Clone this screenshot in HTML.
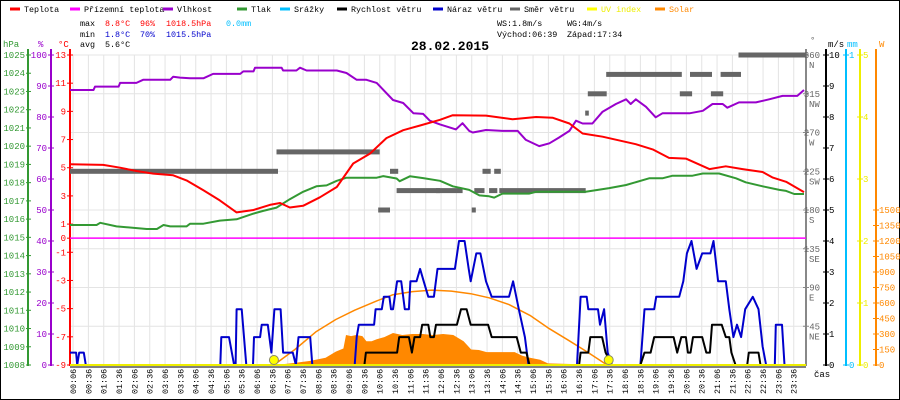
<!DOCTYPE html>
<html><head><meta charset="utf-8">
<style>
html,body{margin:0;padding:0;background:#fff;}
svg{display:block;font-family:"Liberation Mono","DejaVu Sans Mono",monospace;}
</style></head>
<body>
<svg id="chart" width="900" height="400" viewBox="0 0 900 400">
  <rect x="0.5" y="0.5" width="899" height="399" fill="#fff" stroke="#000"/>
  <g id="legend" font-size="8.4"></g>
  <g font-size="8.4">
    <text x="80" y="26" fill="#000">max</text>
    <text x="105" y="26" fill="#f00">8.8°C</text>
    <text x="140" y="26" fill="#f00">96%</text>
    <text x="166" y="26" fill="#f00">1018.5hPa</text>
    <text x="226" y="26" fill="#00bfff">0.0mm</text>
    <text x="80" y="37" fill="#000">min</text>
    <text x="105" y="37" fill="#00c">1.8°C</text>
    <text x="140" y="37" fill="#00c">70%</text>
    <text x="166" y="37" fill="#00c">1015.5hPa</text>
    <text x="80" y="47" fill="#000">avg</text>
    <text x="105" y="47" fill="#000">5.6°C</text>
    <text x="497" y="26" fill="#000">WS:1.8m/s</text>
    <text x="567" y="26" fill="#000">WG:4m/s</text>
    <text x="497" y="37" fill="#000">Východ:06:39</text>
    <text x="567" y="37" fill="#000">Západ:17:34</text>
  </g>
  <text x="450" y="50" text-anchor="middle" font-size="13" font-weight="bold" fill="#000">28.02.2015</text>
  <g id="grid"></g>
  <g id="axes" font-size="9"></g>
  <g id="series"></g>
  <g id="xlabels" font-size="8.4"></g>
  <text x="814" y="377" font-size="9" fill="#000">čas</text>
</svg>
<script>
// ---- data (minutes from midnight, value) ----
const tempT = [0,65,98,130,163,202,228,261,293,326,359,391,411,430,456,489,522,554,587,619,652,685,724,749,814,866,912,944,977,1003,1042,1107,1140,1172,1205,1251,1283,1316,1355,1375,1401,1436];
const tempV = [5.24,5.2,5.0,4.77,4.58,4.46,4.1,3.4,2.68,1.83,2.0,2.36,2.5,2.18,2.3,2.9,3.63,5.3,6.0,7.1,7.66,8.0,8.4,8.73,8.7,8.44,8.6,8.55,8.14,7.43,7.2,6.67,6.3,5.7,5.65,4.9,5.1,4.9,4.7,4.3,4.0,3.27];
const humT = [0,46,49,95,98,130,143,196,202,215,235,261,280,333,339,359,362,414,417,443,450,463,522,541,561,580,600,632,652,672,691,704,724,755,768,781,788,814,846,876,892,918,938,957,977,990,1003,1022,1042,1068,1088,1097,1107,1127,1146,1159,1212,1238,1257,1277,1286,1309,1342,1368,1394,1423,1436];
const humV = [88.7,88.7,89.8,89.8,91,91,92,92,93,92.7,92.5,92.5,93.9,93.9,94.7,94.7,95.9,95.9,95,95,95.9,95,95,94.2,92,92,91,85.5,84.5,81.2,81,78.8,77.6,76,78,75.5,75,75.8,75.5,75.5,72.6,70.6,71.5,73.4,75.5,78.8,77.9,77.9,81.7,84.2,85.7,84.2,85.7,83.3,79.9,81.2,81.2,82,84.2,84.2,83,84.7,84.7,85.7,86.8,86.8,88.7];
const presT = [0,52,59,91,150,170,183,196,228,235,261,293,326,359,378,404,430,456,482,502,522,541,600,613,639,645,665,691,724,749,781,801,820,830,846,898,912,1009,1055,1088,1133,1159,1179,1218,1238,1270,1303,1322,1355,1388,1401,1417,1436];
const presV = [1015.68,1015.68,1015.8,1015.6,1015.46,1015.46,1015.68,1015.6,1015.6,1015.75,1015.75,1015.92,1015.99,1016.3,1016.45,1016.63,1017.09,1017.5,1017.8,1017.85,1018.1,1018.27,1018.27,1018.36,1018.23,1018.08,1018.35,1018.25,1018.1,1017.8,1017.6,1017.3,1017.25,1017.18,1017.4,1017.4,1017.5,1017.5,1017.7,1017.87,1018.24,1018.24,1018.38,1018.38,1018.5,1018.5,1018.24,1018.02,1017.8,1017.6,1017.55,1017.38,1017.38];
const gustT = [0,12,14,18,27,31,294,296,311,321,324,326,336,345,358,360,372,375,387,394,400,412,417,436,442,447,470,474,557,561,565,595,598,610,614,625,628,632,640,648,655,663,666,678,685,692,701,712,719,753,761,772,780,784,795,803,814,825,859,867,878,890,897,992,999,1011,1014,1033,1037,1045,1052,1060,1116,1124,1143,1147,1192,1200,1207,1216,1226,1237,1253,1259,1268,1283,1290,1298,1305,1313,1321,1336,1347,1355,1362,1379,1381,1393,1398,1440];
const gustV = [0.4,0.4,0,0.4,0.4,0,0,0.9,0.9,0,0,1.8,1.8,0,0,0.9,0.9,1.3,1.3,0.4,1.8,1.8,0.4,0.4,0,0.9,0.9,0,0,0.9,1.3,1.3,1.8,1.8,2.2,2.2,1.8,1.8,2.7,2.7,1.8,1.8,2.7,2.7,3.1,2.7,2.2,2.2,3.1,3.1,4.0,4.0,3.1,2.7,3.6,3.6,2.7,2.2,2.2,2.7,1.8,0.9,0,0,2.2,2.2,1.8,1.8,1.3,1.8,0.4,0,0,1.8,1.8,2.2,2.2,2.7,3.6,4.0,3.1,3.6,3.6,4.0,2.7,2.7,1.8,0.9,1.3,0.9,1.8,2.2,1.8,0.6,0,0,1.3,1.3,0,0];
const windT = [0,576,579,640,644,663,669,674,685,689,701,705,712,716,757,765,776,784,818,825,874,882,893,899,996,999,1014,1018,1041,1048,1060,1116,1124,1136,1143,1181,1188,1196,1205,1209,1214,1219,1237,1245,1252,1256,1275,1283,1290,1294,1302,1325,1328,1347,1351,1440];
const windV = [0,0,0.4,0.4,0.9,0.9,0.4,0.9,0.9,1.3,1.3,0.9,0.9,1.3,1.3,1.8,1.8,1.3,1.3,0.9,0.9,0.4,0.4,0,0,0.4,0.4,0.9,0.9,0.4,0,0,0.4,0.4,0.9,0.9,0.4,0.9,0.9,0.4,0.4,0.9,0.9,0.4,0.4,1.3,1.3,0.9,0.9,0.4,0,0,0.4,0.4,0,0];
const solarT = [0,400,420,440,470,500,520,535,540,550,560,572,580,590,600,615,632,650,670,690,710,730,750,760,770,785,800,815,870,885,900,920,935,980,995,1440];
const solarV = [0,0,10,20,40,70,130,160,290,280,290,280,230,230,250,270,310,290,300,300,290,300,290,260,230,150,145,125,125,90,70,50,15,10,0,0];
const solarMaxT = [399,440,481,520,557,600,632,670,708,746,784,820,859,900,935,975,1011,1048,1054];
const solarMaxV = [0,150,320,440,530,620,680,710,725,715,690,650,585,480,360,240,130,10,0];
const dirStart = [0,404,603,626,639,716,791,820,840,807,830,786,1008,1013,1049,1213,1273,1193,1254,1308];
const dirEnd   = [407,606,626,642,724,768,811,836,1009,823,843,794,1015,1050,1197,1256,1313,1217,1278,1440];
const dirVal   = [225,247.5,180,225,202.5,202.5,202.5,202.5,202.5,225,225,180,292.5,315,337.5,337.5,337.5,315,315,360];
const sunEvents = [399,1054];
const legendNames = ["Teplota","Přízemní teplota","Vlhkost","Tlak","Srážky","Rychlost větru","Náraz větru","Směr větru","UV index","Solar"];
const legendColors = ["#f00","#f0f","#90c","#393","#00bfff","#000","#00c","#666","#ff0","#f80"];
const legendX = [10,70,163,237,280,337,433,510,587,655];

// ---- scales ----
const X0=70, X1=806, YT=55, YB=365;
const xS = m => X0 + m/1440*(X1-X0);
const yTemp = t => YT + (13-t)*(YB-YT)/22;
const yHum = h => YT + (100-h)*(YB-YT)/100;
const yPres = p => YT + (1025-p)*(YB-YT)/17;
const yWind = v => YB - v*(YB-YT)/10;
const yDir = d => YB - d*(YB-YT)/360;
const ySolar = w => YB - w*(155/1500);
const NS='http://www.w3.org/2000/svg';
function mk(tag, attrs, parent){const e=document.createElementNS(NS,tag);for(const k in attrs)e.setAttribute(k,attrs[k]);parent.appendChild(e);return e;}

const legend=document.getElementById('legend');
legendNames.forEach((n,i)=>{
  const ln=mk('line',{x1:legendX[i],x2:legendX[i]+10,y1:9,y2:9,stroke:legendColors[i],'stroke-width':3},legend);
  
  
  const t=mk('text',{x:legendX[i]+14,y:12,fill:(i==8?'#ee0':(i==9?'#f80':'#000'))},legend);
  t.textContent=n;
  
  
});

const grid=document.getElementById('grid');
for(let k=0;k<48;k++){
  const x=xS(6+30*k);
  const l=mk('line',{x1:x,x2:x,y1:YT,y2:YB,stroke:'#e4e4e4','stroke-width':1},grid);
  
  
}
for(let d=45;d<=360;d+=45){
  const y=yDir(d);
  const l=mk('line',{x1:X0,x2:X1,y1:y,y2:y,stroke:'#e4e4e4','stroke-width':1},grid);
  
  
}

const axes=document.getElementById('axes');
function axisLine(x,color,name){const l=mk('line',{x1:x,x2:x,y1:YT-6,y2:YB+1,stroke:color,'stroke-width':2},axes);}
function lab(x,y,txt,color,anchor){const t=mk('text',{x:x,y:y+3,fill:color,'text-anchor':anchor},axes);t.textContent=txt;}
function tick(x1,x2,y,color){mk('line',{x1:x1,x2:x2,y1:y,y2:y,stroke:color},axes);}
axisLine(28,'#393','pressure-axis');axisLine(51,'#90c','humidity-axis');axisLine(70,'#f00','temperature-axis');
axisLine(806,'#888','direction-axis');axisLine(826,'#000','wind-axis');axisLine(846,'#00bfff','rain-axis');axisLine(860,'#ee0','uv-axis');axisLine(876,'#f80','solar-axis');
lab(3,44,'hPa','#393','start');lab(38,44,'%','#90c','start');lab(58,44,'°C','#f00','start');
lab(810,40,'°','#666','start');lab(828,44,'m/s','#000','start');lab(847,44,'mm','#00bfff','start');lab(879,44,'W','#f80','start');
for(let p=1008;p<=1025;p++){const y=yPres(p);tick(26,31,y,'#393');lab(25,y,String(p),'#393','end');}
for(let h=0;h<=100;h+=10){const y=yHum(h);tick(48,54,y,'#90c');lab(47,y,String(h),'#90c','end');}
[13,11,9,7,5,3,1,0,-1,-3,-5,-7,-9].forEach(t=>{const y=yTemp(t);tick(67,73,y,'#f00');lab(66,y,String(t),'#f00','end');});
const dirLetters=['','NE','E','SE','S','SW','W','NW','N'];
for(let k=1;k<=8;k++){const d=k*45,y=yDir(d);tick(803,809,y,'#888');lab(820,y,String(d),'#666','end');lab(809,y+10,dirLetters[k],'#666','start');}
for(let v=0;v<=10;v++){const y=yWind(v);tick(823,829,y,'#000');lab(829,y,String(v),'#000','start');}
tick(843,849,YT,'#00bfff');lab(849,YT,'1','#00bfff','start');tick(843,849,YB,'#00bfff');lab(849,YB,'0','#00bfff','start');
for(let u=0;u<=5;u++){const y=YB-u*(YB-YT)/5;tick(857,863,y,'#ee0');lab(863,y,String(u),'#ee0','start');}
for(let w=0;w<=1500;w+=150){const y=ySolar(w);tick(873,879,y,'#f80');lab(879,y,String(w),'#f80','start');}

const S=document.getElementById('series');
let dA='M'+xS(solarT[0])+','+ySolar(0);
solarT.forEach((t,i)=>{dA+=' L'+xS(t).toFixed(1)+','+ySolar(solarV[i]).toFixed(1);});
dA+=' L'+xS(1440)+','+ySolar(0)+' Z';
const sa=mk('path',{d:dA,fill:'#f80',stroke:'none'},S);


const zl=mk('line',{x1:X0,x2:X1,y1:yTemp(0),y2:yTemp(0),stroke:'#f0f','stroke-width':1.5},S);


function poly(ts,vs,yf,color,w,name){
  const pts=ts.map((t,i)=>xS(t).toFixed(1)+','+yf(vs[i]).toFixed(1)).join(' ');
  const p=mk('polyline',{points:pts,fill:'none',stroke:color,'stroke-width':w,'stroke-linejoin':'round'},S);
  
  
}
poly(solarMaxT,solarMaxV,ySolar,'#f80',1.5,'solar-max-line');
dirVal.forEach((d,i)=>{
  const r=mk('rect',{x:xS(dirStart[i]).toFixed(1),y:(yDir(d)-2.5).toFixed(1),width:(xS(dirEnd[i])-xS(dirStart[i])).toFixed(1),height:5,fill:'#666'},S);
  
  
});
poly(presT,presV,yPres,'#393',2,'pressure-line');
poly(humT,humV,yHum,'#90c',2,'humidity-line');
poly(tempT,tempV,yTemp,'#f00',2,'temperature-line');
poly(gustT,gustV,yWind,'#00c',2,'wind-gust-line');
poly(windT,windV,yWind,'#000',2,'wind-speed-line');
const uv=mk('line',{x1:X0,x2:X1,y1:YB,y2:YB,stroke:'#ee0','stroke-width':2},S);


const bl=mk('line',{x1:X0,x2:X1,y1:YB+2,y2:YB+2,stroke:'#000','stroke-width':1},S);


sunEvents.forEach(t=>{
  const c=mk('circle',{cx:xS(t),cy:YB-5,r:4.5,fill:'#ff0',stroke:'#886','stroke-width':1},S);
  
  
});
const XL=document.getElementById('xlabels');
for(let k=0;k<48;k++){
  const m=6+30*k,x=xS(m);
  const hh=String(Math.floor(m/60)).padStart(2,'0'),mm=String(m%60).padStart(2,'0');
  const t=mk('text',{x:0,y:0,fill:'#000',transform:'translate('+(x+3).toFixed(1)+',394) rotate(-90)'},XL);
  t.textContent=hh+':'+mm;
  
  
}
</script>
</body></html>
